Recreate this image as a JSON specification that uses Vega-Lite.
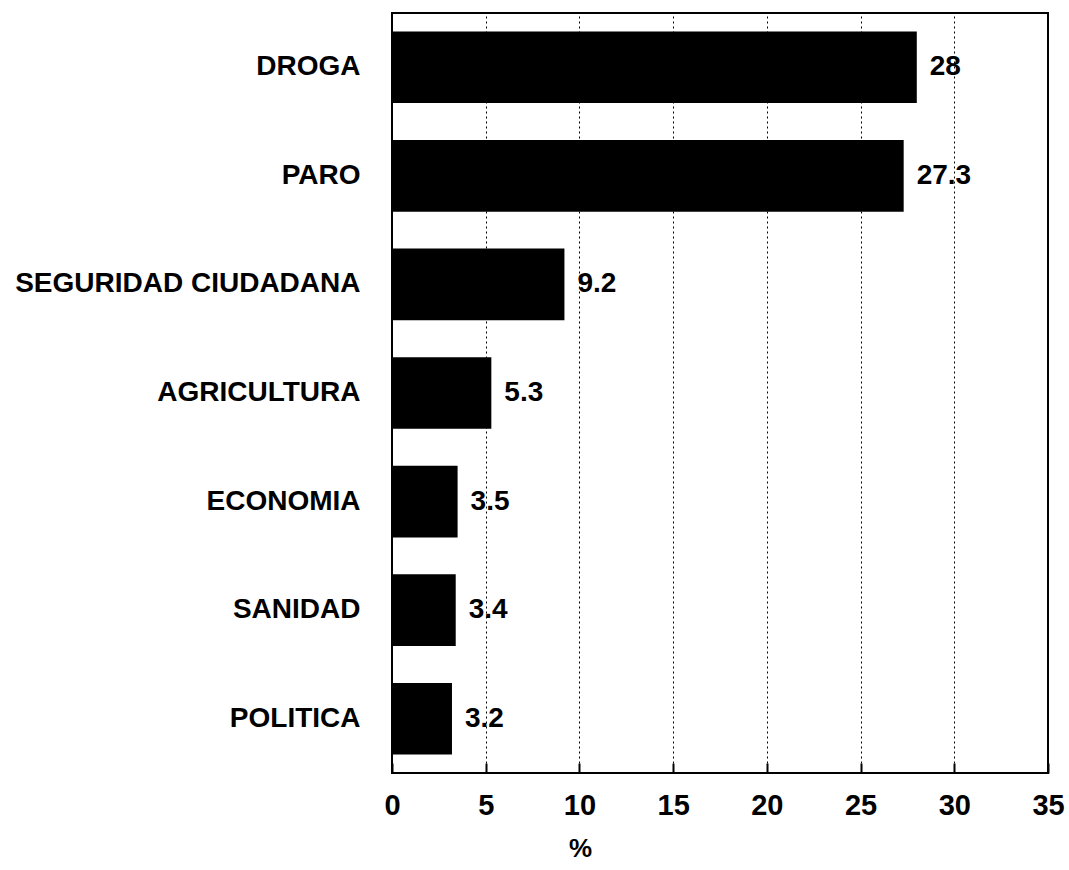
{
  "$schema": "https://vega.github.io/schema/vega-lite/v6.json",
  "autosize": "none",
  "width": 656,
  "height": 760,
  "padding": {"left": 392, "top": 13, "right": 21, "bottom": 97},
  "background": "white",
  "config": {
    "view": {"stroke": "black", "strokeWidth": 2},
    "font": "Liberation Sans"
  },
  "data": {
    "values": [
      {"tema": "DROGA", "pct": 28, "label": "28"},
      {"tema": "PARO", "pct": 27.3, "label": "27.3"},
      {"tema": "SEGURIDAD CIUDADANA", "pct": 9.2, "label": "9.2"},
      {"tema": "AGRICULTURA", "pct": 5.3, "label": "5.3"},
      {"tema": "ECONOMIA", "pct": 3.5, "label": "3.5"},
      {"tema": "SANIDAD", "pct": 3.4, "label": "3.4"},
      {"tema": "POLITICA", "pct": 3.2, "label": "3.2"}
    ]
  },
  "encoding": {
    "y": {
      "field": "tema", "type": "nominal", "sort": null,
      "scale": {"paddingInner": 0.34, "paddingOuter": 0.17},
      "axis": {
        "title": null, "ticks": false, "domain": false, "labelLimit": 0,
        "labelFont": "Liberation Sans", "labelFontSize": 28, "labelFontWeight": "bold",
        "labelColor": "black", "labelPadding": 32
      }
    },
    "x": {
      "field": "pct", "type": "quantitative",
      "scale": {"domain": [0, 35], "nice": false},
      "axis": {
        "values": [0, 5, 10, 15, 20, 25, 30, 35],
        "title": "%", "titleFont": "Liberation Sans", "titleFontSize": 26, "titleFontWeight": "bold",
        "titleColor": "black", "titleX": 188, "titleY": 62, "titleAlign": "center", "titleBaseline": "top",
        "labelFont": "Liberation Sans", "labelFontSize": 29, "labelFontWeight": "bold",
        "labelColor": "black", "labelPadding": 28, "labelFlush": false,
        "tickSize": -10, "tickColor": "black", "tickWidth": 2,
        "domain": false,
        "grid": true, "gridColor": "black", "gridDash": [2, 3], "gridWidth": 1
      }
    }
  },
  "layer": [
    {"mark": {"type": "bar", "color": "black"}},
    {
      "mark": {"type": "text", "align": "left", "baseline": "middle", "dx": 13, "fontSize": 28, "fontWeight": "bold", "color": "black", "font": "Liberation Sans"},
      "encoding": {"text": {"field": "label"}}
    }
  ]
}
